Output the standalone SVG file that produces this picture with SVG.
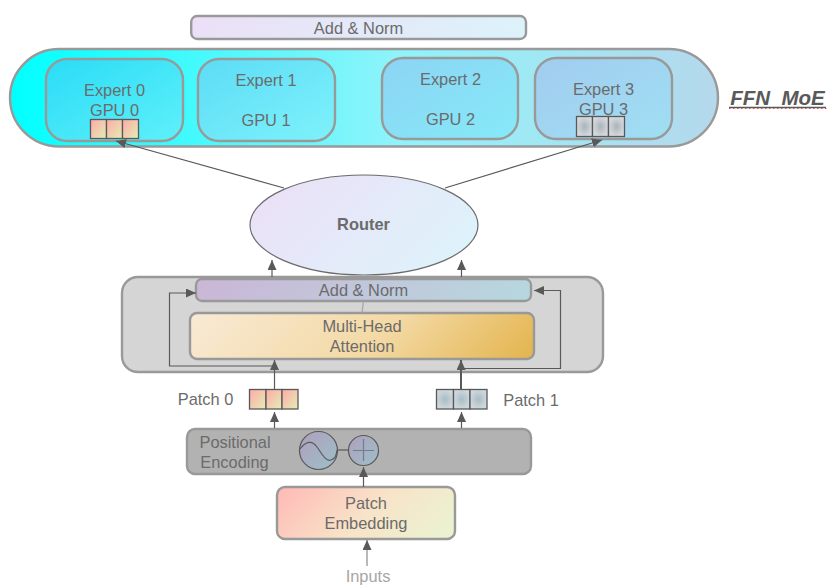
<svg xmlns="http://www.w3.org/2000/svg" width="837" height="585" viewBox="0 0 837 585">
<style>
text{font-family:"Liberation Sans",Arial,sans-serif;font-size:16.400px;fill:#6b6b6b;text-anchor:middle}
.b{stroke:#999;stroke-width:2.4}
.c{stroke:#595959;stroke-width:1.2;fill:none}
.cell{stroke:#595959;stroke-width:1.3}
</style>
<defs>
<marker id="a" markerUnits="userSpaceOnUse" markerWidth="12" markerHeight="10" refX="10" refY="4.5" orient="auto"><path d="M0 0L10 4.5L0 9Z" fill="#595959"/></marker>
<linearGradient id="gTop" gradientUnits="userSpaceOnUse" x1="269" y1="-62" x2="448" y2="117"><stop offset="0" stop-color="#ecdff7"/><stop offset="1" stop-color="#dcf3fa"/></linearGradient>
<linearGradient id="gPill" x1="0" y1="0" x2="1" y2="0"><stop offset="0" stop-color="#00ffff"/><stop offset=".55" stop-color="#90f3fa"/><stop offset="1" stop-color="#b5d8ec"/></linearGradient>
<linearGradient id="gE0" x1="0" y1="0" x2="1" y2="1"><stop offset="0" stop-color="#2adcf6"/><stop offset="1" stop-color="#5ff0fa"/></linearGradient>
<linearGradient id="gE1" x1="0" y1="0" x2="1" y2="1"><stop offset="0" stop-color="#5cdcf6"/><stop offset="1" stop-color="#7ef2fb"/></linearGradient>
<linearGradient id="gE2" x1="0" y1="0" x2="1" y2="1"><stop offset="0" stop-color="#8cd4f4"/><stop offset="1" stop-color="#85eaf8"/></linearGradient>
<linearGradient id="gE3" x1="0" y1="0" x2="1" y2="1"><stop offset="0" stop-color="#a2ccef"/><stop offset="1" stop-color="#9fdff3"/></linearGradient>
<linearGradient id="gR" gradientUnits="userSpaceOnUse" x1="282" y1="143" x2="446" y2="307"><stop offset="0" stop-color="#ecdff7"/><stop offset="1" stop-color="#dcf5fb"/></linearGradient>
<linearGradient id="gAN" gradientUnits="userSpaceOnUse" x1="274.500" y1="201" x2="452.500" y2="379"><stop offset="0" stop-color="#cbb6d6"/><stop offset="1" stop-color="#b6d8df"/></linearGradient>
<linearGradient id="gMH" gradientUnits="userSpaceOnUse" x1="264.500" y1="238.500" x2="459.500" y2="433.500"><stop offset="0" stop-color="#f8ead6"/><stop offset=".55" stop-color="#f3d9a4"/><stop offset="1" stop-color="#e3b44c"/></linearGradient>
<linearGradient id="gPE" gradientUnits="userSpaceOnUse" x1="308.500" y1="455.500" x2="423.500" y2="570.500"><stop offset="0" stop-color="#ffb9b6"/><stop offset=".5" stop-color="#f8e3c8"/><stop offset="1" stop-color="#e9f4d2"/></linearGradient>
<linearGradient id="gC0" x1="0" y1="0" x2="1" y2="1"><stop offset="0" stop-color="#ffaaa8"/><stop offset="1" stop-color="#e3eeb4"/></linearGradient>
<radialGradient id="gC1"><stop offset="0" stop-color="#a9b4bc"/><stop offset="1" stop-color="#d6d9dc"/></radialGradient>
<radialGradient id="gC2"><stop offset="0" stop-color="#a8bcc6"/><stop offset="1" stop-color="#cfd8dc"/></radialGradient>
<linearGradient id="gCirc" x1="0" y1="0" x2="1" y2="1"><stop offset="0" stop-color="#b09fbc"/><stop offset="1" stop-color="#9cc0ca"/></linearGradient>
</defs>

<g id="add-norm-top"><rect class="b" x="191.200" y="16" width="334.800" height="23" rx="6" fill="url(#gTop)"/><text x="358.500" y="33.500">Add &amp; Norm</text></g>

<g id="ffn-moe"><rect class="b" x="10" y="49" width="708" height="97.500" rx="49" fill="url(#gPill)"/>
<text x="777.500" y="104.500" style="font-size:20.500px;font-weight:bold;font-style:italic;fill:#595959;white-space:pre">FFN  MoE</text>
<path d="M729 107.500H826" stroke="#595959" stroke-width="1.300"/><path d="M729 108.500H828" stroke="#e05050" stroke-width="1" stroke-dasharray="1.500 2.500"/></g>

<g id="expert-0"><rect class="b" x="46" y="59" width="137" height="82" rx="21" fill="url(#gE0)"/><text x="114.500" y="96">Expert 0</text><text x="114.500" y="116">GPU 0</text>
<g class="cell"><rect x="90.500" y="119.500" width="16" height="19" fill="url(#gC0)"/><rect x="106.500" y="119.500" width="16" height="19" fill="url(#gC0)"/><rect x="122.500" y="119.500" width="16" height="19" fill="url(#gC0)"/></g></g>
<g id="expert-1"><rect class="b" x="198" y="59" width="137" height="82" rx="21" fill="url(#gE1)"/><text x="266" y="86">Expert 1</text><text x="266" y="125.500">GPU 1</text></g>
<g id="expert-2"><rect class="b" x="382" y="58" width="136" height="81" rx="21" fill="url(#gE2)"/><text x="450.500" y="85">Expert 2</text><text x="450.500" y="124.500">GPU 2</text></g>
<g id="expert-3"><rect class="b" x="535" y="58" width="137" height="81" rx="21" fill="url(#gE3)"/><text x="603.500" y="95">Expert 3</text><text x="603.500" y="115">GPU 3</text>
<g class="cell"><rect x="576.500" y="116.500" width="16" height="20" fill="url(#gC1)"/><rect x="592.500" y="116.500" width="16" height="20" fill="url(#gC1)"/><rect x="608.500" y="116.500" width="16" height="20" fill="url(#gC1)"/></g></g>

<g id="router"><ellipse class="b" cx="364" cy="225" rx="114" ry="50" fill="url(#gR)" style="stroke:#6b6b6b;stroke-width:1.200"/><text x="363.500" y="229.500" style="font-weight:bold">Router</text></g>

<g id="encoder-block"><rect class="b" x="122" y="277" width="481" height="95" rx="16" fill="#d5d5d5"/></g>
<g id="add-norm"><rect class="b" x="196" y="279" width="335" height="22" rx="6" fill="url(#gAN)"/><text x="363.500" y="295.500">Add &amp; Norm</text></g>
<g id="multi-head"><rect class="b" x="190" y="313" width="344" height="46" rx="7" fill="url(#gMH)"/><text x="362" y="332">Multi-Head</text><text x="362" y="352">Attention</text></g>

<g id="patch-0"><text x="205.500" y="404.500">Patch 0</text>
<g class="cell"><rect x="249.500" y="389.500" width="16.500" height="19.500" fill="url(#gC0)"/><rect x="266" y="389.500" width="16" height="19.500" fill="url(#gC0)"/><rect x="282" y="389.500" width="16" height="19.500" fill="url(#gC0)"/></g></g>
<g id="patch-1"><text x="531" y="405.500">Patch 1</text>
<g class="cell"><rect x="436.500" y="389.500" width="17" height="19.500" fill="url(#gC2)"/><rect x="453.500" y="389.500" width="16.500" height="19.500" fill="url(#gC2)"/><rect x="470" y="389.500" width="17" height="19.500" fill="url(#gC2)"/></g></g>

<g id="positional-encoding"><rect class="b" x="187" y="429" width="344" height="45" rx="8" fill="#b2b2b2"/><text x="235" y="448">Positional</text><text x="234.500" y="468">Encoding</text>
<path d="M337 450H349" stroke="#595959" stroke-width="1.200"/>
<circle cx="318.500" cy="450.500" r="19" fill="url(#gCirc)" stroke="#595959" stroke-width="1.200"/>
<path d="M300 449C306 441 312 440 317 447S326 462 331 460S336 456 337 450" fill="none" stroke="#595959" stroke-width="1.200"/>
<circle cx="363.500" cy="450.500" r="15" fill="url(#gCirc)" stroke="#595959" stroke-width="1.200"/>
<path d="M363.500 439V461M353 450.500H374" stroke="#6f7f8f" stroke-width="1.200"/></g>

<g id="patch-embedding"><rect class="b" x="277" y="487" width="178" height="52" rx="8" fill="url(#gPE)"/><text x="366" y="509">Patch</text><text x="366" y="529">Embedding</text></g>
<g id="inputs"><text x="368" y="582" style="fill:#a6a6a6">Inputs</text></g>

<g id="connectors">
<path class="c" d="M284 188L116 141" marker-end="url(#a)"/>
<path class="c" d="M445 188L602 140" marker-end="url(#a)"/>
<path class="c" d="M272 277V260" marker-end="url(#a)"/>
<path class="c" d="M461.500 277V260" marker-end="url(#a)"/>
<path class="c" d="M363.500 301L362 313" style="stroke:#a6a6a6"/>
<path class="c" d="M275 366H169.500V293H196" marker-end="url(#a)"/>
<path class="c" d="M461 368.500H560.500V290.500H534" marker-end="url(#a)"/>
<path class="c" d="M274.500 389V360" marker-end="url(#a)"/>
<path class="c" d="M461 389V360" style="stroke-width:2" marker-end="url(#a)"/>
<path class="c" d="M274.500 428V412" marker-end="url(#a)"/>
<path class="c" d="M461.500 428V412" marker-end="url(#a)"/>
<path class="c" d="M363.500 487V467" marker-end="url(#a)"/>
<path class="c" d="M367 566V540" style="stroke:#8a8a8a" marker-end="url(#a)"/>
</g>
</svg>
